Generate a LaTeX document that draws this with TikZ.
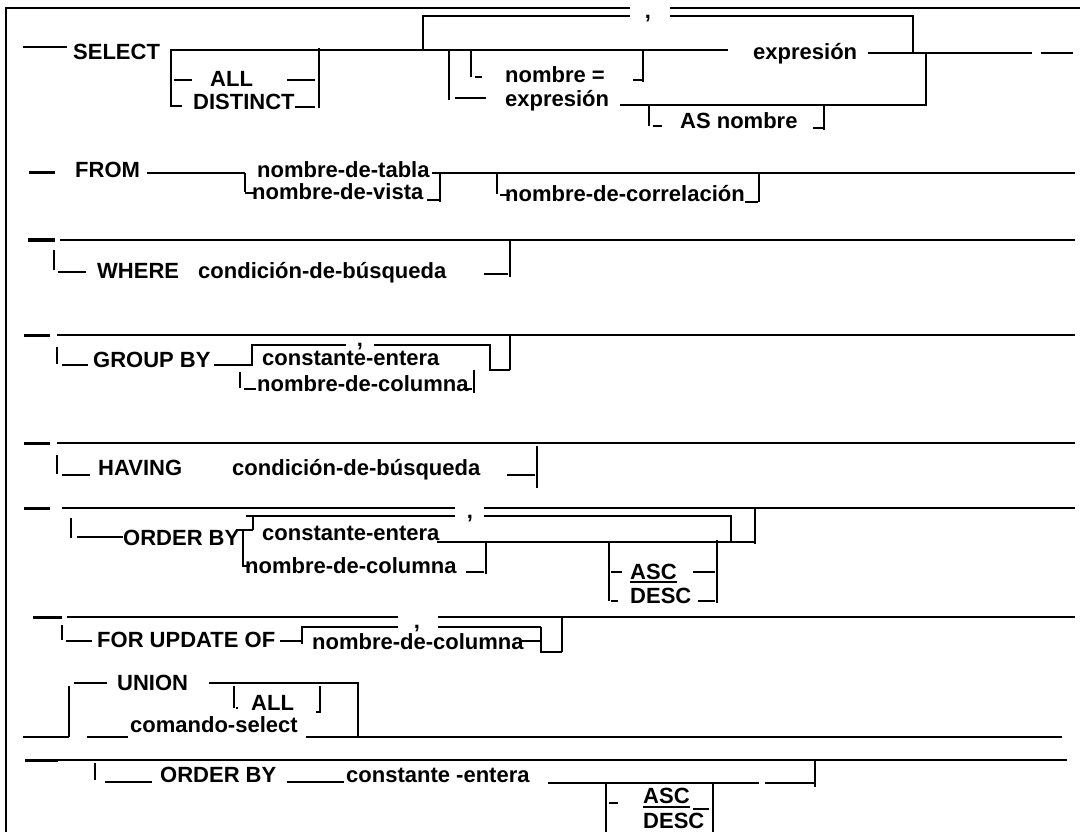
\documentclass[tikz,border=0pt]{standalone}
\usepackage{fontspec}
\setmainfont{Liberation Sans}
\begin{document}
\begin{tikzpicture}[x=1pt,y=-1pt,
  lbl/.style={font=\fontsize{22}{24}\selectfont\bfseries, anchor=base west, inner sep=0pt},
  rail/.style={line width=2.2pt, line cap=butt},
  entry/.style={line width=3pt, line cap=butt},
  frame/.style={line width=2.6pt},
  gap/.style={fill=white}]
\useasboundingbox (0,0) rectangle (1080,832);
% outer frame
\draw[frame] (6,832) -- (6,8) -- (1080,8);

% ---------- SELECT ----------
\node[lbl] (select) at (73,60) {SELECT};
\node[lbl] (all1) at (210,87) {ALL};
\node[lbl] (distinct) at (193,110) {DISTINCT};
\node[lbl] (nombreq) at (505,83) {nombre =};
\node[lbl] (expr2) at (505,107) {expresión};
\node[lbl] (asnombre) at (680,129) {AS nombre};
\node[lbl] (expr1) at (753,60) {expresión};
\draw[rail] (23,47) -- (67,47);
\draw[rail] (171,107) -- (171,50) -- (728,50);
\draw[rail] (174,80) -- (192,80) (287,80) -- (315,80);
\draw[rail] (171,106) -- (182,106) (295,107) -- (315,107);
\draw[rail] (319,48) -- (319,108);
\draw[rail] (423,50) -- (423,16) -- (913,16) -- (913,53);
\draw[rail] (868,53) -- (1032,53) (1041,53) -- (1073,53);
\draw[rail] (926,53) -- (926,105) -- (620,105);
\draw[rail] (449,50) -- (449,100) (455,98) -- (486,98);
\draw[rail] (471,50) -- (471,77) (475,77) -- (482,77);
\draw[rail] (633,80) -- (643,80) (643,50) -- (643,82);
\draw[rail] (649,105) -- (649,126) (653,126) -- (662,126);
\draw[rail] (813,128) -- (824,128) (824,105) -- (824,130);
\fill[gap] (630,5) rectangle (670,19);
\node[lbl,anchor=base] (comma1) at (648,19) {,};

% ---------- FROM ----------
\node[lbl] (from) at (75,178) {FROM};
\node[lbl] (tabla) at (257,178) {nombre-de-tabla};
\node[lbl] (vista) at (252,200) {nombre-de-vista};
\node[lbl] (correl) at (505,202) {nombre-de-correlación};
\draw[entry] (29,173) -- (55,173);
\draw[rail] (147,173) -- (245,173);
\draw[rail] (245,173) -- (245,192) (245,193) -- (255,193);
\draw[rail] (432,173) -- (1075,173);
\draw[rail] (427,200) -- (440,200) (440,173) -- (440,202);
\draw[rail] (497,173) -- (497,194) (500,195) -- (510,195);
\draw[rail] (745,202) -- (758,202) (759,173) -- (759,202);

% ---------- WHERE ----------
\node[lbl] (where) at (97,278) {WHERE};
\node[lbl] (cond1) at (198,278) {condición-de-búsqueda};
\draw[entry] (28,240) -- (55,240);
\draw[rail] (60,240) -- (1075,240);
\draw[rail] (54,250) -- (54,270) (58,272) -- (86,272);
\draw[rail] (484,274) -- (508,274) (510,240) -- (510,277);

% ---------- GROUP BY ----------
\node[lbl] (groupby) at (93,367) {GROUP BY};
\node[lbl] (const1) at (262,365) {constante-entera};
\node[lbl] (col1) at (257,391) {nombre-de-columna};
\draw[entry] (24,335) -- (50,335);
\draw[rail] (57,335) -- (1075,335);
\draw[rail] (57,347) -- (57,364) (62,365) -- (88,365);
\draw[rail] (214,365) -- (252,365) -- (252,345) -- (490,345) -- (490,370) -- (510,370);
\draw[rail] (510,335) -- (510,370);
\draw[rail] (240,372) -- (240,388) (244,389) -- (256,389);
\draw[rail] (463,389) -- (472,389) (474,370) -- (474,393);
\fill[gap] (346,338) rectangle (374,350);
\node[lbl,anchor=base] (comma2) at (360,346) {,};

% ---------- HAVING ----------
\node[lbl] (having) at (98,475) {HAVING};
\node[lbl] (cond2) at (232,475) {condición-de-búsqueda};
\draw[entry] (24,443) -- (50,443);
\draw[rail] (57,443) -- (1075,443);
\draw[rail] (57,455) -- (57,474) (62,475) -- (90,475);
\draw[rail] (507,475) -- (535,475) (537,446) -- (537,488);

% ---------- ORDER BY ----------
\node[lbl] (orderby1) at (123,545) {ORDER BY};
\node[lbl] (const2) at (262,540) {constante-entera};
\node[lbl] (col2) at (245,573) {nombre-de-columna};
\node[lbl] (asc1) at (630,579) {ASC};
\node[lbl] (desc1) at (630,603) {DESC};
\draw[entry] (24,508) -- (50,508);
\draw[rail] (62,508) -- (1075,508);
\draw[rail] (246,516) -- (731,516) -- (731,542);
\draw[rail] (71,518) -- (71,538) (77,537) -- (123,537);
\draw[rail] (236,530) -- (253,530) (253,516) -- (253,530);
\draw[rail] (243,530) -- (243,566) -- (250,566);
\draw[rail] (437,542) -- (755,542) (755,508) -- (755,544);
\draw[rail] (466,572) -- (484,572) (486,542) -- (486,574);
\draw[rail] (609,542) -- (609,601) (611,572) -- (622,572) (611,601) -- (618,601);
\draw[rail] (693,572) -- (715,572) (698,601) -- (715,601) (717,540) -- (717,603);
\draw[rail] ([yshift=-3pt]asc1.base west) -- ([yshift=-3pt]asc1.base east);
\fill[gap] (455,503) rectangle (484,520);
\node[lbl,anchor=base] (comma3) at (470,518) {,};

% ---------- FOR UPDATE OF ----------
\node[lbl] (forupd) at (97,647) {FOR UPDATE OF};
\node[lbl] (col3) at (312,649) {nombre-de-columna};
\draw[entry] (33,617) -- (62,617);
\draw[rail] (67,617) -- (1075,617);
\draw[rail] (62,625) -- (62,640) (66,641) -- (92,641);
\draw[rail] (280,641) -- (302,641) (302,644) -- (302,627) -- (541,627);
\draw[rail] (521,641) -- (541,641) (541,627) -- (541,652) -- (562,652) (562,617) -- (562,652);
\fill[gap] (398,612) rectangle (438,630);
\node[lbl,anchor=base] (comma4) at (417,628) {,};

% ---------- UNION ----------
\node[lbl] (union) at (117,690) {UNION};
\node[lbl] (all2) at (251,710) {ALL};
\node[lbl] (cmdsel) at (130,732) {comando-select};
\draw[rail] (69,737) -- (69,686) (74,683) -- (107,683);
\draw[rail] (209,683) -- (358,683) -- (358,737);
\draw[rail] (234,686) -- (234,708) (236,708) -- (238,708);
\draw[rail] (316,712) -- (320,712) (320,686) -- (320,713);
\draw[rail] (23,737) -- (69,737) (87,737) -- (128,737) (306,737) -- (1062,737);

% ---------- ORDER BY (final) ----------
\node[lbl] (orderby2) at (160,782) {ORDER BY};
\node[lbl] (const3) at (346,782) {constante -entera};
\node[lbl] (asc2) at (643,803) {ASC};
\node[lbl] (desc2) at (643,828) {DESC};
\draw[entry] (25,760) -- (58,760);
\draw[rail] (58,760) -- (1067,760);
\draw[rail] (95,763) -- (95,780) (105,782) -- (152,782) (287,782) -- (344,782);
\draw[rail] (548,783) -- (759,783) (765,783) -- (815,783) (815,759) -- (815,787);
\draw[rail] (606,783) -- (606,832) (609,803) -- (618,803);
\draw[rail] (693,809) -- (709,809) (713,782) -- (713,832);
\draw[rail] ([yshift=-4pt]asc2.base west) -- ([yshift=-4pt]asc2.base east);
\end{tikzpicture}
\end{document}
